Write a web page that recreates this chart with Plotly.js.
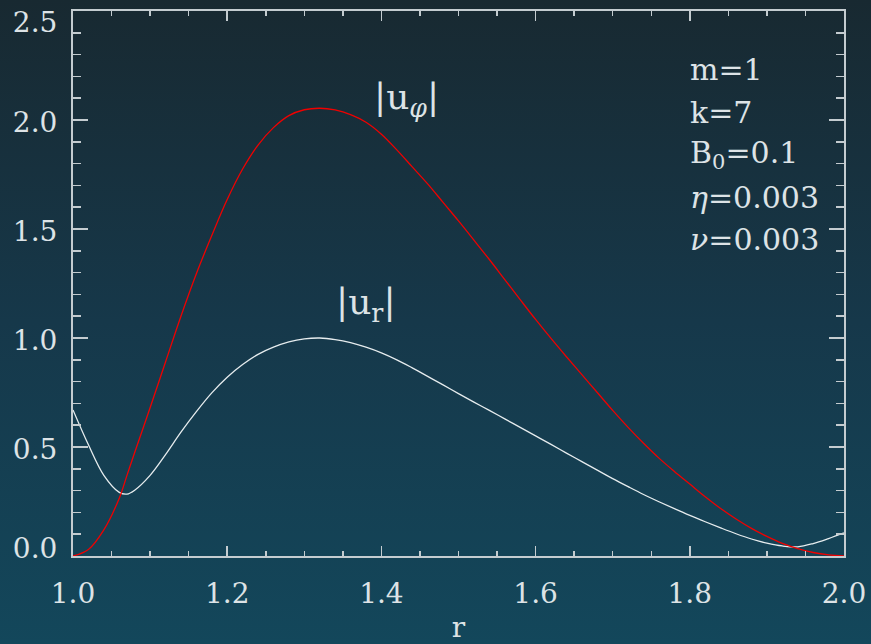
<!DOCTYPE html>
<html>
<head>
<meta charset="utf-8">
<script src="https://cdn.plot.ly/plotly-3.0.1.min.js"></script>
<style>
  html, body { margin: 0; padding: 0; width: 871px; height: 644px; overflow: hidden;
    background: linear-gradient(to bottom, #182931 0%, #16384a 50%, #13475b 100%); }
  #chart { width: 871px; height: 644px; }
</style>
</head>
<body>
<div id="chart"></div>
<script>
// radius grid
const r = [1.00,1.02,1.04,1.06,1.07,1.08,1.10,1.12,1.14,1.16,1.18,1.20,1.22,1.24,1.26,1.28,1.30,1.32,1.34,1.36,1.38,
           1.40,1.42,1.44,1.46,1.48,1.50,1.52,1.54,1.56,1.58,1.60,1.62,1.64,1.66,1.68,1.70,1.72,1.74,1.76,1.78,
           1.80,1.82,1.84,1.86,1.88,1.90,1.92,1.94,1.96,1.98,2.00];
// |u_phi| (red)
const uPhi = [0.00,0.03,0.12,0.265,0.37,0.475,0.68,0.89,1.10,1.295,1.47,1.635,1.775,1.885,1.965,2.02,2.047,2.054,2.046,2.025,1.99,
              1.935,1.863,1.785,1.707,1.622,1.537,1.449,1.36,1.268,1.176,1.085,0.998,0.914,0.832,0.75,0.668,0.59,0.517,0.449,0.388,
              0.33,0.272,0.218,0.17,0.127,0.09,0.058,0.034,0.016,0.005,0.0];
// |u_r| (white)
const uR = [0.67,0.51,0.37,0.292,0.284,0.302,0.37,0.465,0.568,0.662,0.748,0.82,0.878,0.925,0.958,0.982,0.996,1.0,0.993,0.979,0.958,
            0.932,0.90,0.863,0.824,0.785,0.745,0.706,0.668,0.629,0.59,0.551,0.512,0.472,0.433,0.394,0.355,0.318,0.282,0.249,0.217,
            0.186,0.157,0.129,0.102,0.078,0.059,0.046,0.042,0.057,0.08,0.106];
// labels
const curveLabels = ['|u<sub><i>φ</i></sub>|', '|u<sub>r</sub>|'];
const paramLines = ['m=1', 'k=7', 'B<sub>0</sub>=0.1', '<i>η</i>=0.003', '<i>ν</i>=0.003'];
const yTickVals = [0, 0.5, 1.0, 1.5, 2.0, 2.5];
const yTickText = ['', '0.5', '1.0', '1.5', '2.0', ''];   // edge labels drawn by helper axes, nudged inside the frame
const yTopVal = [2.5], yTopText = ['2.5'];
const yBotVal = [0.0], yBotText = ['0.0'];
const xTickVals = [1.0, 1.2, 1.4, 1.6, 1.8, 2.0];
const xTickText = ['1.0', '1.2', '1.4', '1.6', '1.8', '2.0'];
const xTitle = 'r';

const FONT = 'DejaVu Serif';
const TXT = '#dde3e6';
const AX = '#c4ccd0';
const tickFont = {family: FONT, size: 28, color: TXT};

const traces = [
  {x: r, y: uR, type: 'scatter', mode: 'lines', line: {color: '#e6ecee', width: 1.3, shape: 'spline', smoothing: 1}, hoverinfo: 'skip'},
  {x: r, y: uPhi, type: 'scatter', mode: 'lines', line: {color: '#f00000', width: 1.3, shape: 'spline', smoothing: 1}, hoverinfo: 'skip'},
  {x: [], y: [], type: 'scatter', mode: 'lines', yaxis: 'y2', hoverinfo: 'skip'},
  {x: [], y: [], type: 'scatter', mode: 'lines', yaxis: 'y3', hoverinfo: 'skip'}
];

const annotations = [
  {xref: 'paper', yref: 'paper', x: (406-73)/771, y: (556.5-100)/545.5, text: curveLabels[0], showarrow: false,
   xanchor: 'center', yanchor: 'middle', font: {family: FONT, size: 36, color: TXT}},
  {xref: 'paper', yref: 'paper', x: (366-73)/771, y: (556.5-305)/545.5, text: curveLabels[1], showarrow: false,
   xanchor: 'center', yanchor: 'middle', font: {family: FONT, size: 36, color: TXT}}
];
const lineY = [70, 112.5, 155, 197.5, 240];
paramLines.forEach((t, i) => {
  annotations.push({xref: 'paper', yref: 'paper', x: (688-73)/771, y: (556.5-lineY[i])/545.5, text: t,
    showarrow: false, xanchor: 'left', yanchor: 'middle', font: {family: FONT, size: 30, color: TXT}});
});

const helperY = (vals, text, shift) => ({
  overlaying: 'y', anchor: 'x', side: 'left', range: [0, 2.5],
  tickmode: 'array', tickvals: vals, ticktext: text, ticks: '',
  showline: true, linecolor: AX, linewidth: 2, showgrid: false, zeroline: false,
  automargin: false, ticklabeloverflow: 'allow', ticklabelshift: shift,
  tickfont: tickFont, ticklabelstandoff: 8
});

const layout = {
  width: 871, height: 644,
  margin: {l: 73, r: 27, t: 11, b: 88},
  paper_bgcolor: 'rgba(0,0,0,0)',
  plot_bgcolor: 'rgba(0,0,0,0)',
  showlegend: false,
  xaxis: {
    range: [1, 2], tickmode: 'array', tickvals: xTickVals, ticktext: xTickText,
    ticks: 'inside', ticklen: 10, tickwidth: 1.5, tickcolor: AX,
    minor: {dtick: 0.05, ticks: 'inside', ticklen: 5, tickwidth: 1.5, tickcolor: AX},
    showline: true, linecolor: AX, linewidth: 2, mirror: 'ticks',
    showgrid: false, zeroline: false, automargin: false, ticklabeloverflow: 'allow',
    tickfont: tickFont,
    ticklabelstandoff: 11,
    title: {text: xTitle, font: {family: FONT, size: 28, color: TXT}, standoff: 9}
  },
  yaxis: {
    range: [0, 2.5], tickmode: 'array', tickvals: yTickVals, ticktext: yTickText,
    ticks: 'inside', ticklen: 15, tickwidth: 1.5, tickcolor: AX,
    minor: {dtick: 0.1, ticks: 'inside', ticklen: 8, tickwidth: 1.5, tickcolor: AX},
    showline: true, linecolor: AX, linewidth: 2, mirror: 'ticks',
    showgrid: false, zeroline: false, automargin: false, ticklabeloverflow: 'allow',
    tickfont: tickFont, ticklabelshift: 2,
    ticklabelstandoff: 8
  },
  yaxis2: helperY(yTopVal, yTopText, 11),
  yaxis3: helperY(yBotVal, yBotText, -8),
  annotations: annotations
};

Plotly.newPlot('chart', traces, layout, {staticPlot: true, displayModeBar: false});
</script>
</body>
</html>
